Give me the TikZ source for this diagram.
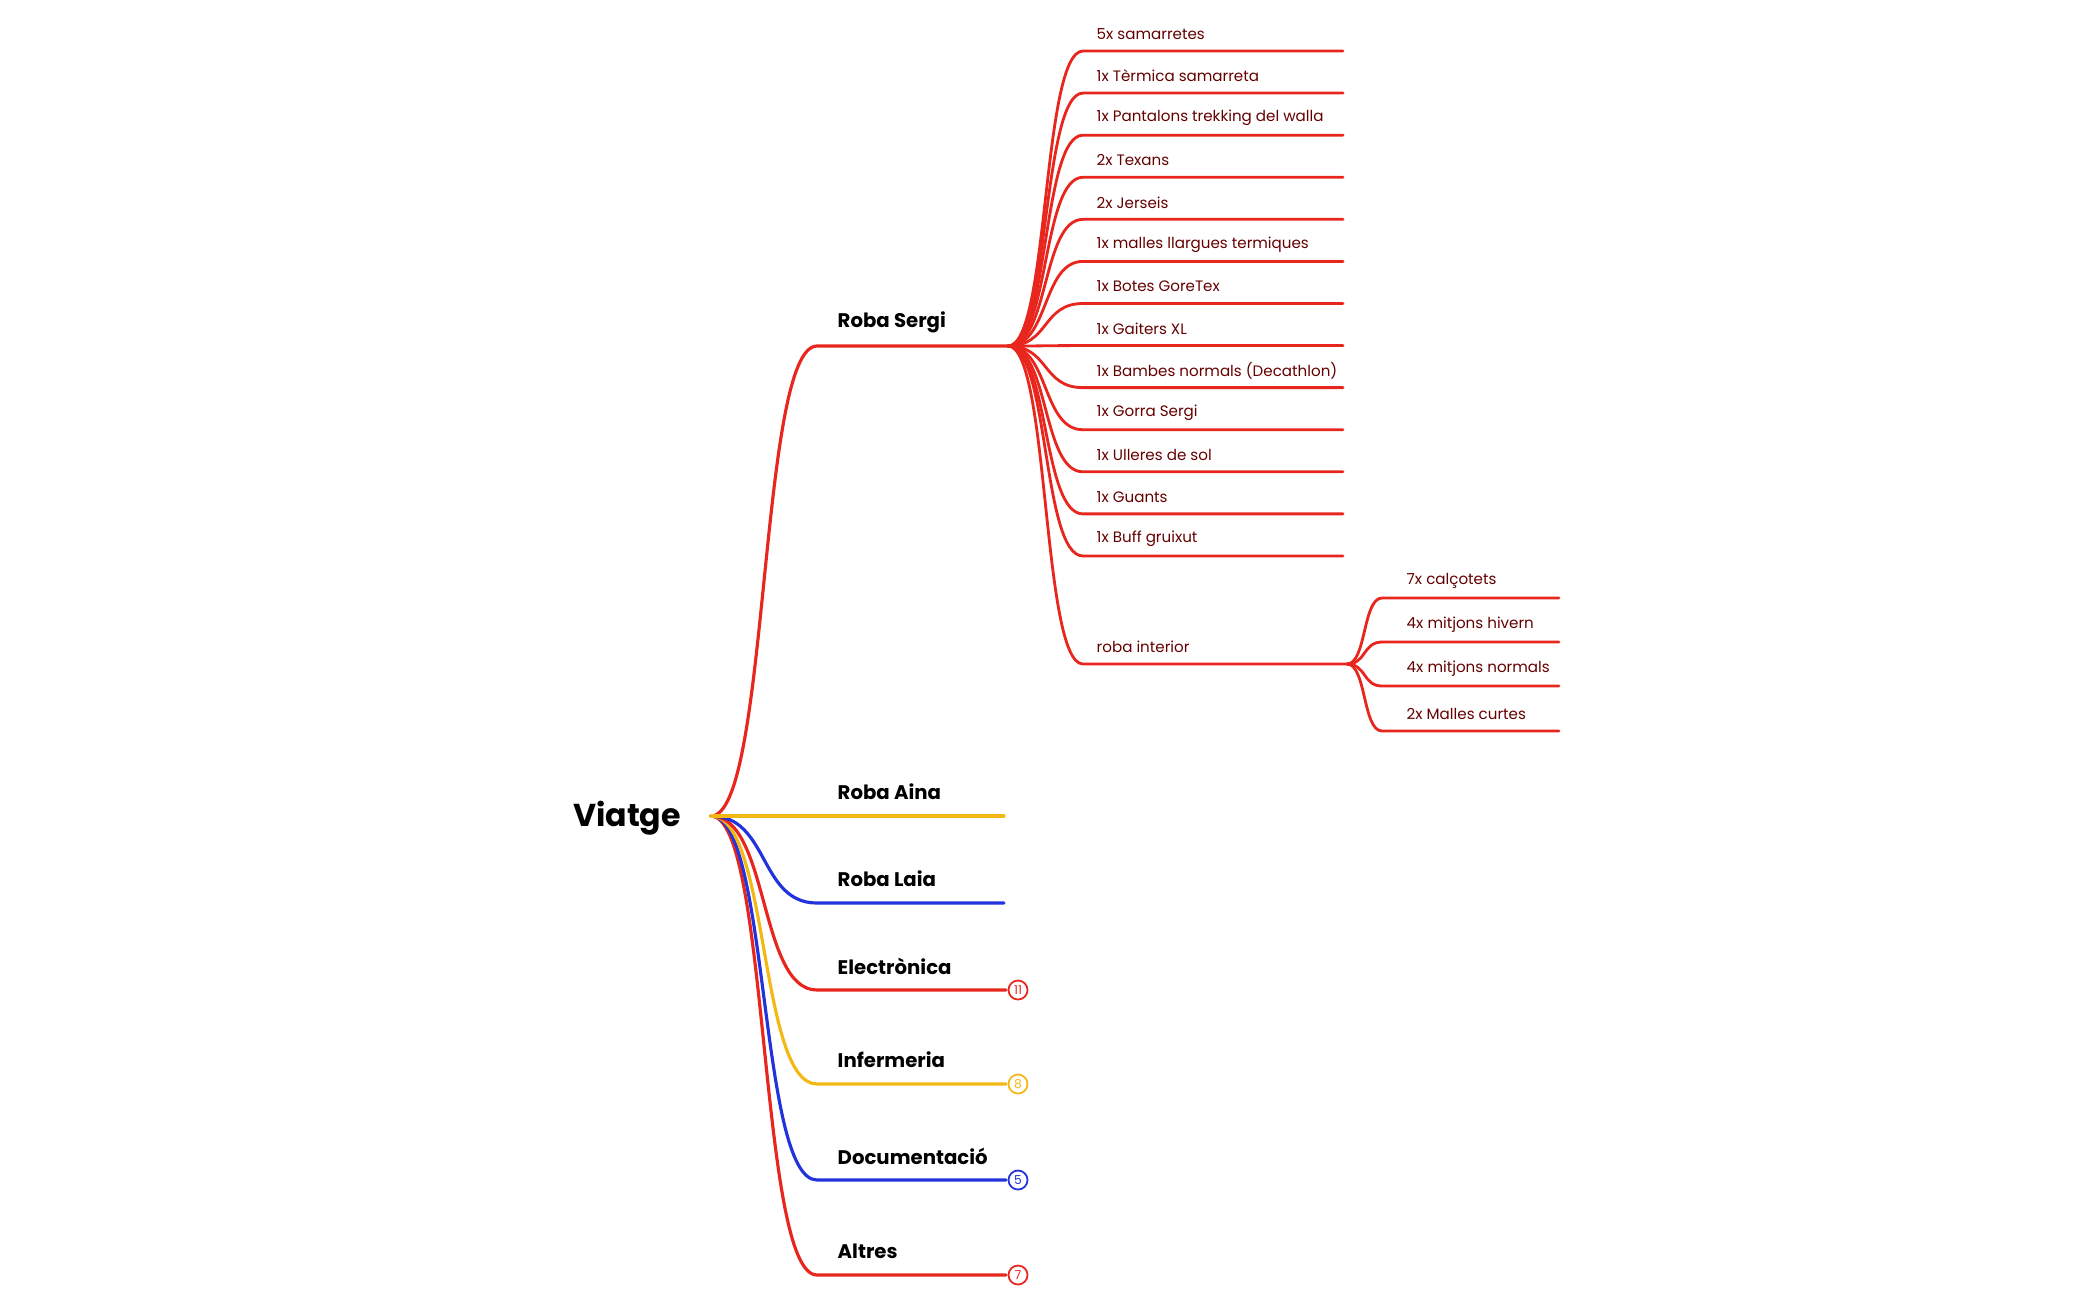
\documentclass[tikz,border=0pt]{standalone}
\usepackage{fontspec}
\setmainfont{Poppins}
\usetikzlibrary{calc}
\definecolor{mapred}{RGB}{232,38,30}
\definecolor{mapyellow}{RGB}{244,184,20}
\definecolor{mapblue}{RGB}{34,51,221}
\definecolor{leaftext}{RGB}{100,0,0}
\newcommand{\drawBranch}[4]{
	\draw[#4] let
		\p1 = (#1), \p2 = (#2)
		in
		(\p1) .. controls ({0.45*\x1+0.55*\x2},\y1) and ({0.55*\x1+0.45*\x2},\y2) .. (\p2) -- (#3);
}
\tikzset{
	branch/.style={line width=0.9pt, line cap=round},
	catlabel/.style={anchor=west, font=\bfseries\fontsize{5.6}{7}\selectfont, inner sep=0pt},
	leaflabel/.style={anchor=west, font=\fontsize{4.3}{5}\selectfont, text=leaftext, inner sep=0pt},
	count/.style={circle, draw, line width=0.5pt, fill=white, minimum size=0.19cm, inner sep=0pt, font=\fontsize{3.5}{4}\selectfont}
}
\begin{document}
\begin{tikzpicture}[x=0.01cm, y=-0.01cm]
		\useasboundingbox (0,0) rectangle (2100,1299);
		\node[font=\bfseries\fontsize{9}{10}\selectfont] (root) at (627,818) {Viatge};
		\coordinate (R_J) at (711,816);

		% main categories
		\coordinate (S_L) at (817,346);  \coordinate (S_R) at (1008,346);
		\coordinate (A_L) at (817,816);  \coordinate (A_R) at (1004,816);
		\coordinate (L_L) at (817,903);  \coordinate (L_R) at (1004,903);
		\coordinate (E_L) at (817,990);  \coordinate (E_R) at (1006,990);
		\coordinate (I_L) at (817,1084); \coordinate (I_R) at (1006,1084);
		\coordinate (D_L) at (817,1180); \coordinate (D_R) at (1006,1180);
		\coordinate (T_L) at (817,1275); \coordinate (T_R) at (1006,1275);

		\drawBranch{R_J}{S_L}{S_R}{branch, mapred}
		\drawBranch{R_J}{T_L}{T_R}{branch, mapred}
		\drawBranch{R_J}{D_L}{D_R}{branch, mapblue}
		\drawBranch{R_J}{I_L}{I_R}{branch, mapyellow}
		\drawBranch{R_J}{E_L}{E_R}{branch, mapred}
		\drawBranch{R_J}{L_L}{L_R}{branch, mapblue}
		\drawBranch{R_J}{A_L}{A_R}{branch, mapyellow}

		\node[catlabel] (sergi) at (837,322) {Roba Sergi};
		\node[catlabel] (aina) at (837,792) {Roba Aina};
		\node[catlabel] (laia) at (837,879) {Roba Laia};
		\node[catlabel] (elec) at (837,966) {Electrònica};
		\node[catlabel] (infer) at (837,1060) {Infermeria};
		\node[catlabel] (docs) at (837,1156) {Documentació};
		\node[catlabel] (altres) at (837,1251) {Altres};

		\node[count, draw=mapred, text=mapred] (elecN) at (1018,990) {11};
		\node[count, draw=mapyellow, text=mapyellow] (inferN) at (1018,1084) {8};
		\node[count, draw=mapblue, text=mapblue] (docsN) at (1018,1180) {5};
		\node[count, draw=mapred, text=mapred] (altresN) at (1018,1275) {7};

		% Roba Sergi
		\foreach \txt [count=\i from 0] in {5x samarretes, 1x Tèrmica samarreta,
			1x Pantalons trekking del walla, 2x Texans, 2x Jerseis,
			1x malles llargues termiques, 1x Botes GoreTex, 1x Gaiters XL,
			1x Bambes normals (Decathlon), 1x Gorra Sergi, 1x Ulleres de sol,
			1x Guants, 1x Buff gruixut}{
			\coordinate (S\i_L) at (1083,{51+\i*42.08});
			\coordinate (S\i_R) at (1343,{51+\i*42.08});
			\drawBranch{S_R}{S\i_L}{S\i_R}{branch, mapred, line width=0.8pt}
			\node[leaflabel] (sleaf\i) at (1096,{34+\i*42.08}) {\txt};
		}
		\coordinate (RI_L) at (1083,664); \coordinate (RI_R) at (1347,664);
		\drawBranch{S_R}{RI_L}{RI_R}{branch, mapred, line width=0.8pt}
		\node[leaflabel] (interior) at (1096,647) {roba interior};

		% roba interior
		\foreach \txt/\y [count=\i] in {7x calçotets/598, 4x mitjons hivern/642,
			4x mitjons normals/686, 2x Malles curtes/731}{
			\coordinate (I\i_L) at (1382,\y);
			\coordinate (I\i_R) at (1559,\y);
			\drawBranch{RI_R}{I\i_L}{I\i_R}{branch, mapred, line width=0.8pt}
			\node[leaflabel] (ileaf\i) at (1406,\y-17) {\txt};
		}
	\end{tikzpicture}
\end{document}
